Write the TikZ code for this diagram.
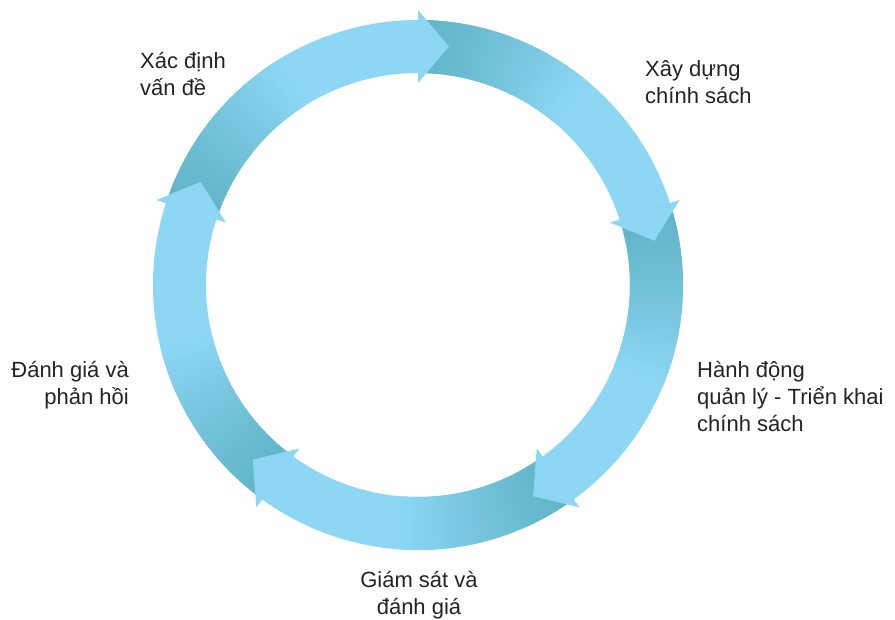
\documentclass[tikz,border=0pt]{standalone}
\usepackage{fontspec}
\setmainfont{Liberation Sans}
\usetikzlibrary{calc}
\definecolor{RingLight}{RGB}{141,215,245}
\definecolor{RingDark}{RGB}{98,181,201}
\definecolor{LabelGray}{RGB}{35,35,35}

\begin{document}
\begin{tikzpicture}[
  x=1pt, y=1pt,
  label/.style={font=\fontsize{22}{27}\selectfont, text=LabelGray, inner sep=0pt},
  arrowhead/.style={fill=RingLight, draw=none}
]
\useasboundingbox (0,0) rectangle (895,619);

\begin{scope}[shift={(418,334)}]
\foreach \h in {90,18,-54,-126,-198} {
  \pgfmathsetmacro{\t}{\h+72}
  \fill[RingLight] (\t:265) arc[start angle=\t, end angle=\h, radius=265]
    -- (\h:212) arc[start angle=\h, end angle=\t, radius=212] -- cycle;
  \foreach \i in {0,...,39} {
    \pgfmathsetmacro{\pc}{100*(\i/40)^1.3}
    \pgfmathsetmacro{\a}{\t-\i}
    \pgfmathsetmacro{\b}{\t-\i-1.4}
    \fill[RingLight!\pc!RingDark] (\a:265) arc[start angle=\a, end angle=\b, radius=265]
      -- (\b:212) arc[start angle=\b, end angle=\a, radius=212] -- cycle;
  }
}
\foreach \h in {90,18,-54,-126,-198} {
  \pgfmathsetmacro{\d}{\h-90}
  \fill[arrowhead] (\h:275) -- ($(\h:238.5)+(\d:31)$) -- (\h:202) -- cycle;
}
\end{scope}

\node[label, align=left, anchor=base west] (define) at (140,523) {Xác định\\vấn đề};
\node[label, align=left, anchor=base west] (build) at (645,515) {Xây dựng\\chính sách};
\node[label, align=left, anchor=base west] (act) at (697,187) {Hành động\\quản lý - Triển khai\\chính sách};
\node[label, align=center, anchor=base] (monitor) at (419,5) {Giám sát và\\đánh giá};
\node[label, align=right, anchor=base east] (review) at (129,214) {Đánh giá và\\phản hồi};
\end{tikzpicture}
\end{document}
